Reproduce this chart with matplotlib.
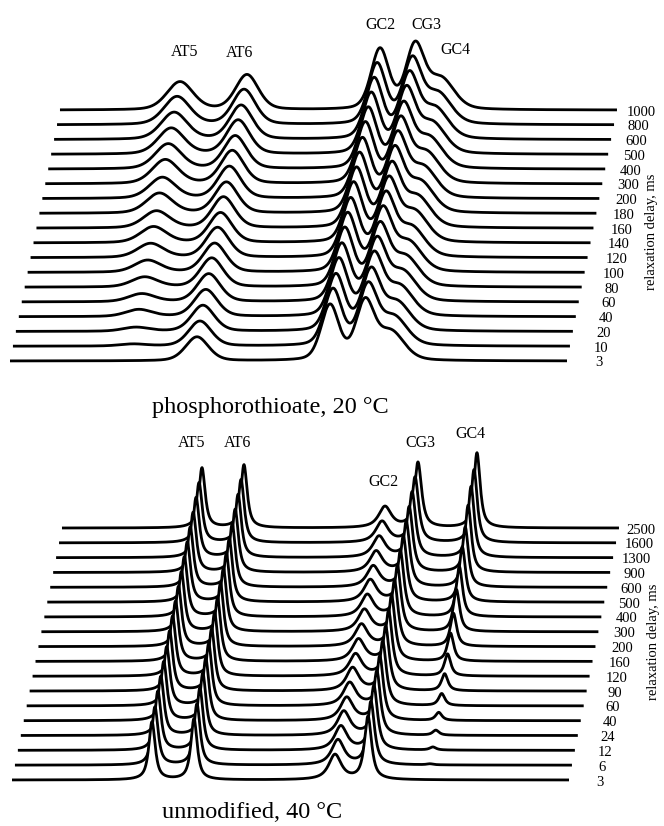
import numpy as np
import matplotlib
matplotlib.use("Agg")
import matplotlib.pyplot as plt

# ---------------- data: phosphorothioate, 20 °C ----------------
delays_pt = [3, 10, 20, 40, 60, 80, 100, 120, 140, 160, 180, 200, 300, 400, 500, 600, 800, 1000]
peaks_pt = ["AT5", "AT6", "GC2", "CG3", "GC4"]
pos_pt = [120, 187, 320, 355, 381]          # position along spectrum (points)
fwhm_pt = [31, 27, 21, 22, 31]
h_AT5_pt = [0, 2, 4, 7, 8, 10, 12, 14, 16, 17, 20, 21, 24, 25, 26, 27, 28, 28]
h_AT6_pt = [24, 25, 26, 27, 28, 29, 29, 30, 30, 31, 31, 32, 33, 33, 34, 34, 35, 35]
h_GC2_pt = [55, 56, 56, 57, 57, 58, 58, 58, 59, 59, 59, 59, 60, 60, 60, 60, 60, 60]
h_CG3_pt = [57, 58, 58, 59, 59, 59, 60, 60, 60, 60, 61, 61, 61, 61, 62, 62, 62, 62]
h_GC4_pt = [28, 28, 28, 29, 29, 29, 29, 29, 30, 30, 30, 30, 30, 30, 30, 30, 30, 30]

# ---------------- data: unmodified, 40 °C ----------------
delays_un = [3, 6, 12, 24, 40, 60, 90, 120, 160, 200, 300, 400, 500, 600, 900, 1300, 1600, 2500]
peaks_un = ["AT5", "AT6", "GC2", "CG3", "GC4"]
pos_un = [140, 182, 323, 356, 415]
fwhm_un = [7.5, 7.5, 15, 8.5, 7.5]
h_AT5_un = [58, 58, 59, 59, 59, 59, 60, 60, 60, 60, 60, 60, 60, 60, 60, 60, 60, 60]
h_AT6_un = [61, 61, 62, 62, 62, 62, 62, 63, 63, 63, 63, 63, 63, 63, 63, 63, 63, 63]
h_GC2_un = [25, 25, 24, 24, 23, 23, 23, 22, 22, 22, 22, 22, 22, 21, 21, 21, 21, 21]
h_CG3_un = [63, 63, 64, 64, 64, 64, 64, 65, 65, 65, 65, 65, 65, 65, 65, 65, 65, 65]
h_GC4_un = [0, 1, 3, 5, 8, 12, 17, 22, 28, 33, 42, 50, 55, 60, 67, 71, 73, 75]

SERIF = ["Liberation Serif", "DejaVu Serif"]


def spectrum(x, pos, fwhm, heights, eta):
    y = np.zeros_like(x)
    for p, w, h in zip(pos, fwhm, heights):
        u = (x - p) / w
        g = np.exp(-4 * np.log(2) * u ** 2)
        l = 1.0 / (1.0 + 4 * u ** 2)
        y += h * (eta * l + (1 - eta) * g)
    return y


def draw_panel(ax, delays, pos, fwhm, H, eta, x0, dx, y0, dy, lab_x0, lab_dx, length=557):
    x = np.linspace(0, length, 1500)
    n = len(delays)
    for i in reversed(range(n)):
        heights = [h[i] for h in H]
        s = spectrum(x, pos, fwhm, heights, eta)
        X = x + x0 + i * dx
        base = y0 + i * dy
        Y = s + base
        z = 2 * (n - i) + 2
        ax.fill_between(X, base - 1.5, Y, color="white", lw=0, zorder=z)
        ax.plot(X, Y, color="black", lw=2.0, zorder=z + 1, solid_capstyle="butt")
        ax.text(lab_x0 + i * lab_dx, base - 2, str(delays[i]), ha="center", va="center",
                fontsize=10.5, family=SERIF, zorder=100)


fig = plt.figure(figsize=(6.64, 8.26), dpi=100)
ax = fig.add_axes([0, 0, 1, 1])
ax.set_xlim(0, 664)
ax.set_ylim(0, 826)
ax.axis("off")

# top panel
draw_panel(ax, delays_pt, pos_pt, fwhm_pt,
           [h_AT5_pt, h_AT6_pt, h_GC2_pt, h_CG3_pt, h_GC4_pt], 0.3,
           x0=10, dx=2.94, y0=465, dy=14.76, lab_x0=599, lab_dx=2.47)
# bottom panel
draw_panel(ax, delays_un, pos_un, fwhm_un,
           [h_AT5_un, h_AT6_un, h_GC2_un, h_CG3_un, h_GC4_un], 0.85,
           x0=12, dx=2.94, y0=46, dy=14.82, lab_x0=600, lab_dx=2.43)

# peak labels
lab_top = {"AT5": (185, 774), "AT6": (240, 773), "GC2": (380, 801), "CG3": (426, 801), "GC4": (455, 776)}
lab_bot = {"AT5": (192, 383), "AT6": (238, 383), "GC2": (383, 344), "CG3": (420, 383), "GC4": (470, 392)}
for name in peaks_pt:
    ax.text(*lab_top[name], name, ha="center", va="center", fontsize=11.5, family=SERIF)
for name in peaks_un:
    ax.text(*lab_bot[name], name, ha="center", va="center", fontsize=11.5, family=SERIF)

ax.text(652, 594, "relaxation delay, ms", rotation=90, ha="center", va="center",
        fontsize=10.5, family=SERIF)
ax.text(654, 184, "relaxation delay, ms", rotation=90, ha="center", va="center",
        fontsize=10.5, family=SERIF)

ax.text(270, 419, "phosphorothioate, 20 °C", ha="center", va="center", fontsize=17.5, family=SERIF)
ax.text(252, 14, "unmodified, 40 °C", ha="center", va="center", fontsize=17.5, family=SERIF)

fig.savefig("out.png", dpi=100)
